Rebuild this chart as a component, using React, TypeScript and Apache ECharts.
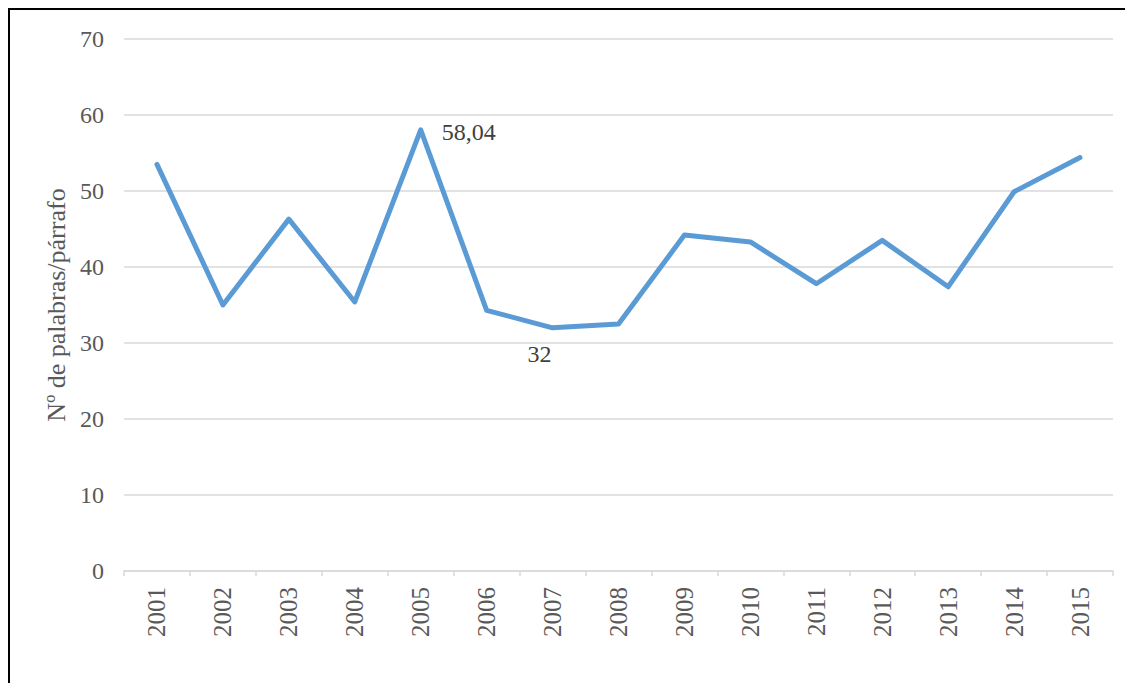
import React, { useEffect, useRef } from "react";
import * as echarts from "echarts";

const years = ["2001","2002","2003","2004","2005","2006","2007","2008","2009","2010","2011","2012","2013","2014","2015"];
const values = [53.5, 35.0, 46.3, 35.4, 58.04, 34.3, 32, 32.5, 44.2, 43.3, 37.8, 43.5, 37.4, 49.9, 54.4];
const yAxisName = "Nº de palabras/párrafo";

const FONT = "'Times New Roman', 'Liberation Serif', serif";

export default function App() {
  const ref = useRef<HTMLDivElement>(null);
  useEffect(() => {
    if (!ref.current) return;
    const chart = echarts.init(ref.current, undefined, { renderer: "svg" });
    const data = values.map((v, i) => {
      if (i === 4) {
        return { value: v, label: { show: true, position: "right", distance: 21, offset: [0, 2] } };
      }
      if (i === 6) {
        return { value: v, label: { show: true, position: "bottom", distance: 14, offset: [-13, 0] } };
      }
      return { value: v };
    });
    chart.setOption({
      animation: false,
      backgroundColor: "#ffffff",
      grid: { left: 114, right: 20, top: 29, bottom: 112, containLabel: false },
      xAxis: {
        type: "category",
        data: years,
        boundaryGap: true,
        axisLine: { show: true, lineStyle: { color: "#d9d9d9", width: 1.5 } },
        axisTick: { show: true, alignWithLabel: false, length: 5, lineStyle: { color: "#d9d9d9", width: 1.5 } },
        axisLabel: { rotate: 90, margin: 16, color: "#595959", fontFamily: FONT, fontSize: 25 },
        splitLine: { show: false },
      },
      yAxis: {
        type: "value",
        min: 0,
        max: 70,
        interval: 10,
        name: yAxisName,
        nameLocation: "middle",
        nameRotate: 90,
        nameGap: 52,
        nameTextStyle: { color: "#595959", fontFamily: FONT, fontSize: 26 },
        axisLine: { show: false },
        axisTick: { show: false },
        axisLabel: { margin: 20, color: "#595959", fontFamily: FONT, fontSize: 24 },
        splitLine: { show: true, lineStyle: { color: "#d9d9d9", width: 1.5 } },
      },
      series: [
        {
          type: "line",
          data,
          showSymbol: true,
          symbol: "circle",
          symbolSize: 0,
          lineStyle: { color: "#5b9bd5", width: 5, cap: "round", join: "round" },
          itemStyle: { color: "#5b9bd5" },
          label: {
            show: false,
            color: "#404040",
            fontFamily: FONT,
            fontSize: 24,
            formatter: (p: any) => String(p.value).replace(".", ","),
          },
        },
      ],
    });
    return () => chart.dispose();
  }, []);
  return (
    <div
      style={{
        width: 1125,
        height: 675,
        boxSizing: "border-box",
        borderTop: "2px solid #000",
        borderLeft: "2px solid #000",
        overflow: "hidden",
        background: "#fff",
      }}
    >
      <div ref={ref} style={{ width: 1123, height: 673 }} />
    </div>
  );
}
